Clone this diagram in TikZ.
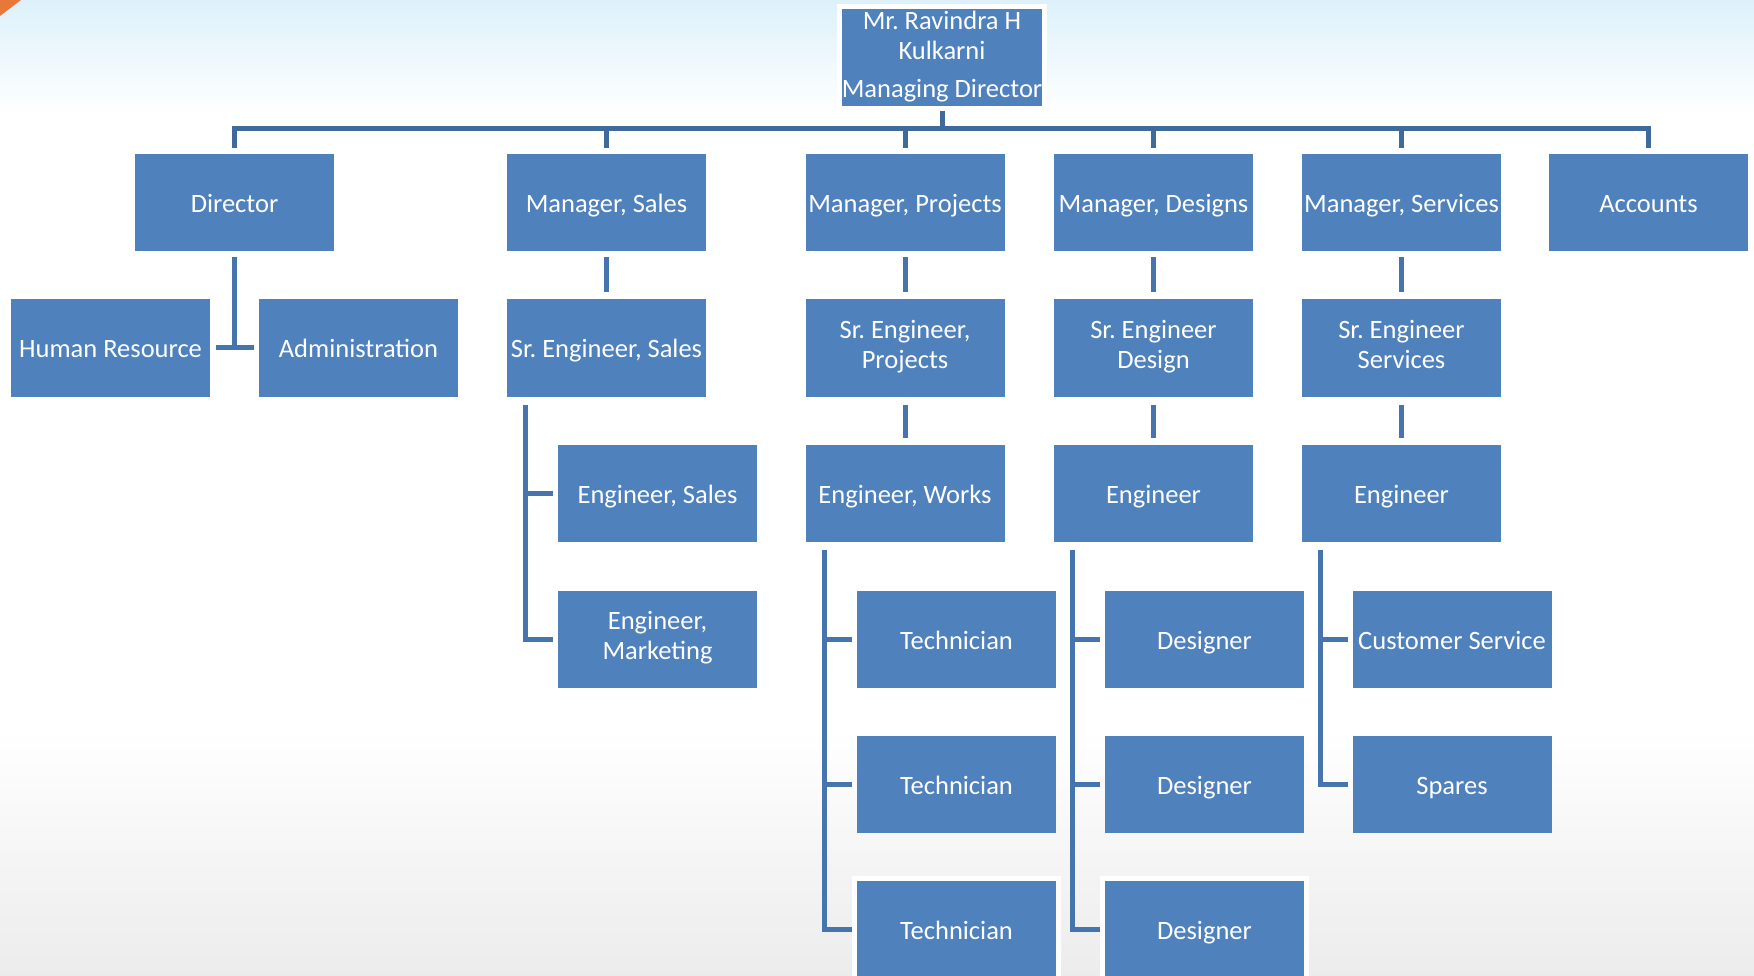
\documentclass[tikz,border=0pt]{standalone}
\usepackage{fontspec}
\setmainfont{Carlito}
\usetikzlibrary{calc}
\definecolor{boxblue}{HTML}{4F81BD}
\definecolor{linkblue}{HTML}{4674AC}
\definecolor{busblue}{HTML}{3F6A9C}
\definecolor{skyblue}{HTML}{DDF1FA}
\definecolor{floorgray}{HTML}{ECECEC}
\definecolor{cornerorange}{HTML}{E8783A}
\frenchspacing
\newcommand{\boxstrut}{\rule[-7pt]{0pt}{34pt}}
\begin{document}
\begin{tikzpicture}[x=1pt,y=-1pt,
  box/.style={fill=boxblue, text=white, minimum width=199pt, minimum height=97pt,
    inner sep=0pt, outer sep=0pt, align=center, font=\fontsize{26.5}{30}\selectfont\frenchspacing,
    execute at begin node=\boxstrut, execute at end node=\boxstrut},
  framed/.style={preaction={draw=white, line width=10pt}},
  conn/.style={draw=linkblue, line width=5pt, line join=miter},
  bus/.style={draw=busblue, line width=5pt, line join=miter}]
\useasboundingbox (0,0) rectangle (1754,976);
% background
\fill[white] (0,0) rectangle (1754,976);
\shade[top color=skyblue, bottom color=white] (0,0) rectangle (1754,115);
\shade[top color=white, bottom color=floorgray] (0,730) rectangle (1754,976);
\fill[cornerorange] (0,0) -- (21,0) -- (0,16) -- cycle;

% nodes
\node[box, framed] (md) at (942,57.5) {Mr. Ravindra H\\Kulkarni\\[8pt]Managing Director};

\node[box] (dir)    at (234.5,202.5) {Director};
\node[box] (msales) at (606.5,202.5) {Manager, Sales};
\node[box] (mproj)  at (905,202.5)   {Manager, Projects};
\node[box] (mdes)   at (1153.5,202.5){Manager, Designs};
\node[box] (mserv)  at (1401.5,202.5){Manager, Services};
\node[box] (acc)    at (1648.5,202.5){Accounts};

\node[box] (hr)     at (110.5,348)  {Human Resource};
\node[box] (adm)    at (358.5,348)  {Administration};
\node[box] (ssales) at (606.5,348)  {Sr. Engineer, Sales};
\node[box] (sproj)  at (905,348)    {Sr. Engineer,\\Projects};
\node[box] (sdes)   at (1153.5,348) {Sr. Engineer\\Design};
\node[box] (sserv)  at (1401.5,348) {Sr. Engineer\\Services};

\node[box] (esales) at (657.5,493)  {Engineer, Sales};
\node[box] (eworks) at (905,493)    {Engineer, Works};
\node[box] (edes)   at (1153.5,493) {Engineer};
\node[box] (eserv)  at (1401.5,493) {Engineer};

\node[box] (emkt)   at (657.5,639)  {Engineer,\\Marketing};
\node[box] (techA)  at (956.5,639)  {Technician};
\node[box] (desA)   at (1204.5,639) {Designer};
\node[box] (cust)   at (1452,639)   {Customer Service};

\node[box] (techB)  at (956.5,784)  {Technician};
\node[box] (desB)   at (1204.5,784) {Designer};
\node[box] (spares) at (1452,784)   {Spares};

\node[box, framed] (techC) at (956.5,929.5)  {Technician};
\node[box, framed] (desC)  at (1204.5,929.5) {Designer};

% top bus
\draw[bus] ($(md.south)+(0,5)$) -- ++(0,18.5);
\draw[bus] ($(dir.north)+(0,-6)$) -- ++(0,-19) -| ($(acc.north)+(0,-6)$);
\foreach \n in {msales,mproj,mdes,mserv}
  \draw[bus] ($(\n.north)+(0,-6)$) -- ++(0,-19);

% director branch
\draw[conn] ($(dir.south)+(0,6)$) -- (dir.south |- hr.east);
\draw[conn] ($(hr.east)+(6,0)$) -- ($(adm.west)+(-5,0)$);

% level 1 -> level 2
\foreach \a/\b in {msales/ssales, mproj/sproj, mdes/sdes, mserv/sserv}
  \draw[conn] ($(\a.south)+(0,6)$) -- ($(\b.north)+(0,-7)$);
% level 2 -> level 3
\foreach \a/\b in {sproj/eworks, sdes/edes, sserv/eserv}
  \draw[conn] ($(\a.south)+(0,8)$) -- ($(\b.north)+(0,-7)$);

% sales spine
\coordinate (spS) at ($(ssales.south west)+(18,8)$);
\draw[conn] (spS) |- ($(emkt.west)+(-5,0)$);
\draw[conn] (spS |- esales.west) -- ($(esales.west)+(-5,0)$);

% works spine
\coordinate (spW) at ($(eworks.south west)+(19,8)$);
\draw[conn] (spW) |- ($(techC.west)+(-5,0)$);
\draw[conn] (spW |- techA.west) -- ($(techA.west)+(-5,0)$);
\draw[conn] (spW |- techB.west) -- ($(techB.west)+(-5,0)$);

% designs spine
\coordinate (spD) at ($(edes.south west)+(18,8)$);
\draw[conn] (spD) |- ($(desC.west)+(-5,0)$);
\draw[conn] (spD |- desA.west) -- ($(desA.west)+(-5,0)$);
\draw[conn] (spD |- desB.west) -- ($(desB.west)+(-5,0)$);

% services spine
\coordinate (spV) at ($(eserv.south west)+(18,8)$);
\draw[conn] (spV) |- ($(spares.west)+(-5,0)$);
\draw[conn] (spV |- cust.west) -- ($(cust.west)+(-5,0)$);
\end{tikzpicture}
\end{document}
